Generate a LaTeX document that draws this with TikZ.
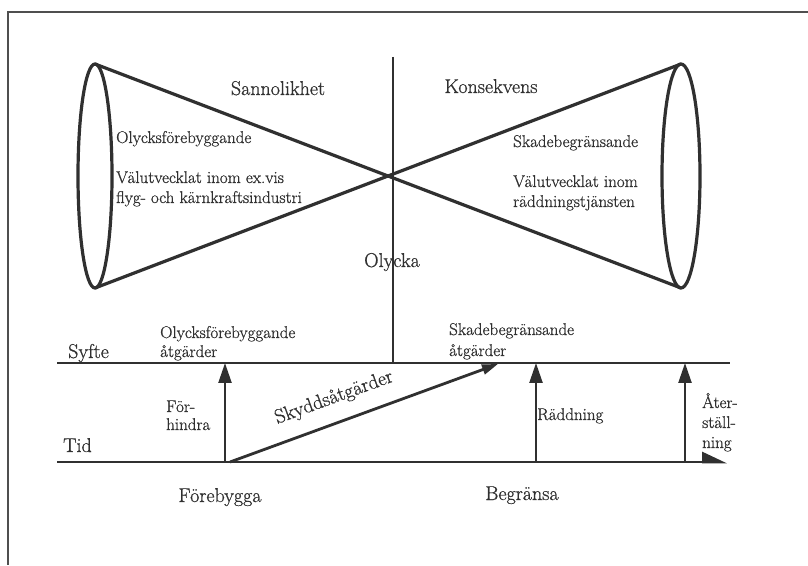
\documentclass[tikz,border=0pt]{standalone}
\usepackage{fontspec}
\usetikzlibrary{arrows.meta}
% a slightly heavier roman for all labels
\newfontfamily\labelfont{Latin Modern Roman}[FakeBold=0.8]
\definecolor{ink}{HTML}{303030}
\tikzset{
  x=1pt, y=1pt,
  every node/.style={text=ink, inner sep=0pt},
  small/.style={font=\labelfont\fontsize{17}{20}\selectfont},
  big/.style={font=\labelfont\fontsize{20}{24}\selectfont},
  cone/.style={draw=ink, line width=3.2pt},
  axisline/.style={draw=ink, line width=2.6pt},
  uparrow/.style={draw=ink, line width=2.4pt, -{Triangle[length=20pt,width=13pt]}},
  frameline/.style={draw=ink!85, line width=2.2pt},
}
\begin{document}
\begin{tikzpicture}
\useasboundingbox (0,0) rectangle (808,565);
\fill[white] (0,0) rectangle (808,565);

% frame (top and left edges)
\coordinate (fr1) at (808,553);
\coordinate (fr2) at (8,553);
\coordinate (fr3) at (8,0);
\draw[frameline] (fr1) -- (fr2) -- (fr3);

% the two cones meeting in one point
\coordinate (ltop) at (95,501);
\coordinate (lbot) at (95,277);
\coordinate (rtop) at (681,501);
\coordinate (rbot) at (681,277);
\draw[cone] (95,389) ellipse [x radius=17, y radius=112];
\draw[cone] (681,389) ellipse [x radius=19, y radius=112];
\draw[cone] (ltop) -- (rbot);
\draw[cone] (lbot) -- (rtop);

% event axis
\coordinate (ytop) at (393,508);
\coordinate (ybot) at (393,202);
\draw[axisline] (ytop) -- (ybot);

% purpose line and time line
\coordinate (s0) at (57,202);
\coordinate (s1) at (730,202);
\coordinate (t0) at (57,103);
\coordinate (t1) at (727,103);
\draw[axisline] (s0) -- (s1);
\draw[axisline, -{Triangle[left,length=22pt,width=20pt]}] (t0) -- (t1);

% measures between the lines
\coordinate (fa) at (225,103);
\coordinate (fb) at (225,202);
\coordinate (ra) at (536,103);
\coordinate (rb) at (536,202);
\coordinate (aa) at (685,103);
\coordinate (ab) at (685,202);
\coordinate (ka) at (230,103);
\coordinate (kb) at (498,201);
\draw[uparrow] (fa) -- (fb);
\draw[uparrow] (ra) -- (rb);
\draw[uparrow] (aa) -- (ab);
\draw[draw=ink, line width=2.8pt, -{Triangle[length=16pt,width=10pt]}] (ka) -- node[big, pos=0.42, sloped, above=14pt] (skydd) {Skyddsåtgärder} (kb);

% upper labels
\node[big, anchor=base] (sann) at (278,470) {Sannolikhet};
\node[big, anchor=base] (kons) at (491,472) {Konsekvens};
\node[small, anchor=base west] (olf1) at (116,422) {Olycksförebyggande};
\node[small, anchor=base west] (val1) at (116,382) {Välutvecklat inom ex.vis};
\node[small, anchor=base west] (flyg) at (116,362) {flyg- och kärnkraftsindustri};
\node[small, anchor=base west] (skb1) at (513,418) {Skadebegränsande};
\node[small, anchor=base west] (val2) at (513,378) {Välutvecklat inom};
\node[small, anchor=base west] (radd) at (513,358) {räddningstjänsten};
\node[big, anchor=base] (olycka) at (392,298) {Olycka};

% lower labels
\node[big, anchor=base west] (syfte) at (68,207) {Syfte};
\node[big, anchor=base west] (tid) at (63,113) {Tid};
\node[small, anchor=base west] (olf2) at (160,227) {Olycksförebyggande};
\node[small, anchor=base west] (atg1) at (160,208) {åtgärder};
\node[small, anchor=base west] (skb2) at (449,230) {Skadebegränsande};
\node[small, anchor=base west] (atg2) at (449,209) {åtgärder};
\node[small, anchor=base west] (for) at (166,153) {För-};
\node[small, anchor=base west] (hin) at (166,135) {hindra};
\node[small, anchor=base west] (raddn) at (537,145) {Räddning};
\node[small, anchor=base west] (ater) at (702,157) {Åter-};
\node[small, anchor=base west] (stall) at (702,137) {ställ-};
\node[small, anchor=base west] (ning) at (702,117) {ning};
\node[big, anchor=base] (foreb) at (220,63) {Förebygga};
\node[big, anchor=base] (begr) at (522,65) {Begränsa};
\end{tikzpicture}
\end{document}
